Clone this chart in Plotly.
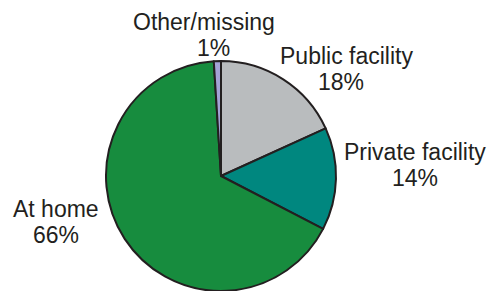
import plotly.graph_objects as go

# Data
categories = ["Public facility", "Private facility", "At home", "Other/missing"]
values = [18.2, 14.4, 66.4, 1.0]
pct_labels = ["18%", "14%", "66%", "1%"]
colors = ["#B9BCBE", "#00877F", "#178C3E", "#A3A3D6"]

W, H = 496, 291

fig = go.Figure(go.Pie(
    labels=categories,
    values=values,
    sort=False,
    direction="clockwise",
    rotation=0,
    marker=dict(colors=colors, line=dict(color="#231F20", width=2)),
    textinfo="none",
    hoverinfo="label+percent",
    showlegend=False,
    domain=dict(x=[106 / W, 336 / W], y=[0, 1 - 61 / H]),
))

# label positions (pixel centers of name line / pct line)
label_pos = {
    "Public facility": ((346, 56), (341, 82)),
    "Private facility": ((415, 152), (415, 178)),
    "At home": ((56, 209), (56, 235)),
    "Other/missing": ((204, 22), (213, 48)),
}

font = dict(family="Liberation Sans, Arial, sans-serif", size=23, color="#231F20")
annotations = []
for cat, pct in zip(categories, pct_labels):
    (nx, ny), (px, py) = label_pos[cat]
    annotations.append(dict(text=cat, x=nx / W, y=1 - ny / H, xref="paper", yref="paper",
                            showarrow=False, xanchor="center", yanchor="middle",
                            borderpad=0, font=font))
    annotations.append(dict(text=pct, x=px / W, y=1 - py / H, xref="paper", yref="paper",
                            showarrow=False, xanchor="center", yanchor="middle",
                            borderpad=0, font=font))

fig.update_layout(
    width=W, height=H,
    margin=dict(l=0, r=0, t=0, b=0),
    paper_bgcolor="white",
    plot_bgcolor="white",
    annotations=annotations,
)

fig.write_html("out.html", config={"displayModeBar": False},
               post_script="document.body.style.margin='0';")
